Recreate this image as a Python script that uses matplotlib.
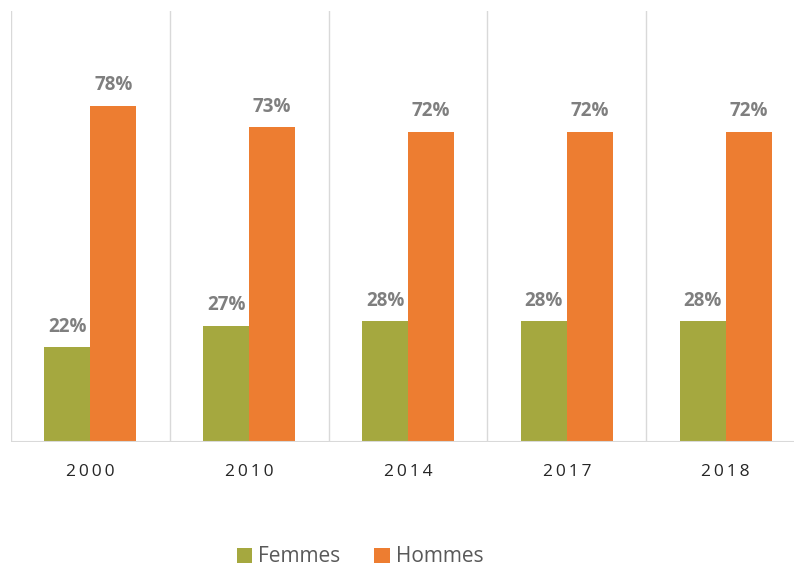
import matplotlib
matplotlib.use("Agg")
import matplotlib.pyplot as plt
import numpy as np

years = ["2000", "2010", "2014", "2017", "2018"]
femmes = [22, 27, 28, 28, 28]
hommes = [78, 73, 72, 72, 72]

GREEN = "#A5A83F"
ORANGE = "#ED7D31"
GRID = "#D9D9D9"
LABEL = "#7F7F7F"

plt.rcParams["font.family"] = ["Open Sans", "DejaVu Sans"]

fig = plt.figure(figsize=(7.94, 5.69), dpi=100)
ax = fig.add_axes([11 / 794, 1 - 442 / 569, 794 / 794, 431 / 569])

x = np.arange(len(years))
w = 0.29
b1 = ax.bar(x - w / 2, femmes, w, color=GREEN, label="Femmes", zorder=3)
b2 = ax.bar(x + w / 2, hommes, w, color=ORANGE, label="Hommes", zorder=3)

for bars, vals in ((b1, femmes), (b2, hommes)):
    for rect, v in zip(bars, vals):
        ax.annotate(f"{v}%", (rect.get_x() + rect.get_width() / 2, v),
                    xytext=(0, 7.5), textcoords="offset points", ha="center",
                    va="bottom", fontsize=13.5, fontweight="bold", color=LABEL)

ax.set_xlim(-0.5, len(years) - 0.5)
ax.set_ylim(0, 100)
for b in np.arange(-0.5, len(years), 1.0):
    ax.axvline(b, color=GRID, lw=1.0, zorder=1)
ax.axhline(0, color=GRID, lw=1.5, zorder=4)

for s in ax.spines.values():
    s.set_visible(False)
ax.set_yticks([])
ax.set_xticks(x)
ax.set_xticklabels(["\u2009".join(y) for y in years], fontsize=12.5, color="#262626")
ax.tick_params(axis="x", length=0, pad=16)

fig.legend(loc="center", bbox_to_anchor=(360 / 794, 1 - 557 / 569), ncol=2,
           frameon=False, fontsize=15, handlelength=0.75, handleheight=0.75,
           columnspacing=1.6, handletextpad=0.3, labelcolor="#595959")

fig.savefig("out.png", dpi=100)
